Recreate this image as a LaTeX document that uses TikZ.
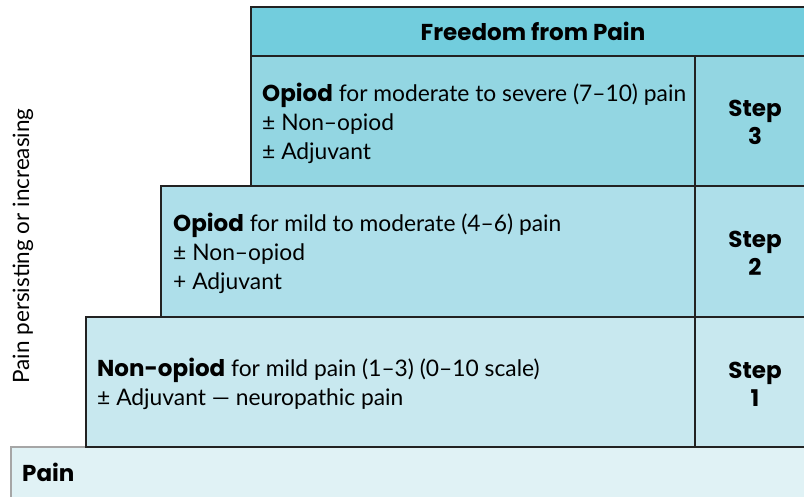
\documentclass[tikz,border=0pt]{standalone}
\usepackage{fontspec}
\setmainfont{Lato}
\newfontfamily\heavy{Poppins}
\usetikzlibrary{positioning}
\definecolor{chead}{HTML}{72CDDD}
\definecolor{cthree}{HTML}{93D6E2}
\definecolor{ctwo}{HTML}{AEDFEA}
\definecolor{cone}{HTML}{C8E8EF}
\definecolor{cpain}{HTML}{E0F2F5}
\definecolor{cline}{HTML}{222222}
\newcommand{\hb}[1]{{\heavy\bfseries\fontsize{23}{29}\selectfont #1}}
\tikzset{
  tier/.style={draw=cline, line width=1.6pt, anchor=north west, inner sep=0pt},
  body/.style={anchor=west, align=left, inner sep=0pt, font=\fontsize{22.8}{29}\selectfont},
  steplbl/.style={align=center, inner sep=0pt, font=\heavy\bfseries\fontsize{23}{28}\selectfont},
}
\begin{document}
\begin{tikzpicture}[x=1pt,y=-1pt]
\useasboundingbox (0,0) rectangle (804,497);
\clip (0,0) rectangle (804,497);
% tiers
\node[tier, fill=cpain, draw=gray!70, minimum width=820pt, minimum height=51pt] (painbox) at (10,446) {};
\node[tier, fill=cone, minimum width=730pt, minimum height=130pt] (onebox) at (85,316) {};
\node[tier, fill=ctwo, minimum width=655pt, minimum height=131pt] (twobox) at (160,185) {};
\node[tier, fill=cthree, minimum width=565pt, minimum height=130pt] (threebox) at (250,55) {};
\node[tier, fill=chead, minimum width=565pt, minimum height=49pt] (headbox) at (250,6) {};
% step column divider
\draw[cline, line width=1.6pt] (695,55) coordinate (dtop) -- (695,446) coordinate (dbot);
% texts
\node[inner sep=0pt] (head) at (533,31) {\hb{Freedom from Pain}};
\node[body] (t3) at (262,123) {\hb{Opiod} for moderate to severe (7–10) pain\\± Non–opiod\\± Adjuvant};
\node[body] (t2) at (173,253) {\hb{Opiod} for mild to moderate (4–6) pain\\± Non–opiod\\+ Adjuvant};
\node[body] (t1) at (97,384) {\hb{Non-opiod} for mild pain (1–3) (0–10 scale)\\± Adjuvant — neuropathic pain};
\node[steplbl] (s3) at (755,122) {Step\\3};
\node[steplbl] (s2) at (755,253) {Step\\2};
\node[steplbl] (s1) at (755,384) {Step\\1};
\node[anchor=west, inner sep=0pt] (pain) at (22,472) {\hb{Pain}};
\node[rotate=90, font=\fontsize{22.5}{24}\selectfont, inner sep=0pt] (axis) at (23,246) {Pain persisting or increasing};
\end{tikzpicture}
\end{document}
